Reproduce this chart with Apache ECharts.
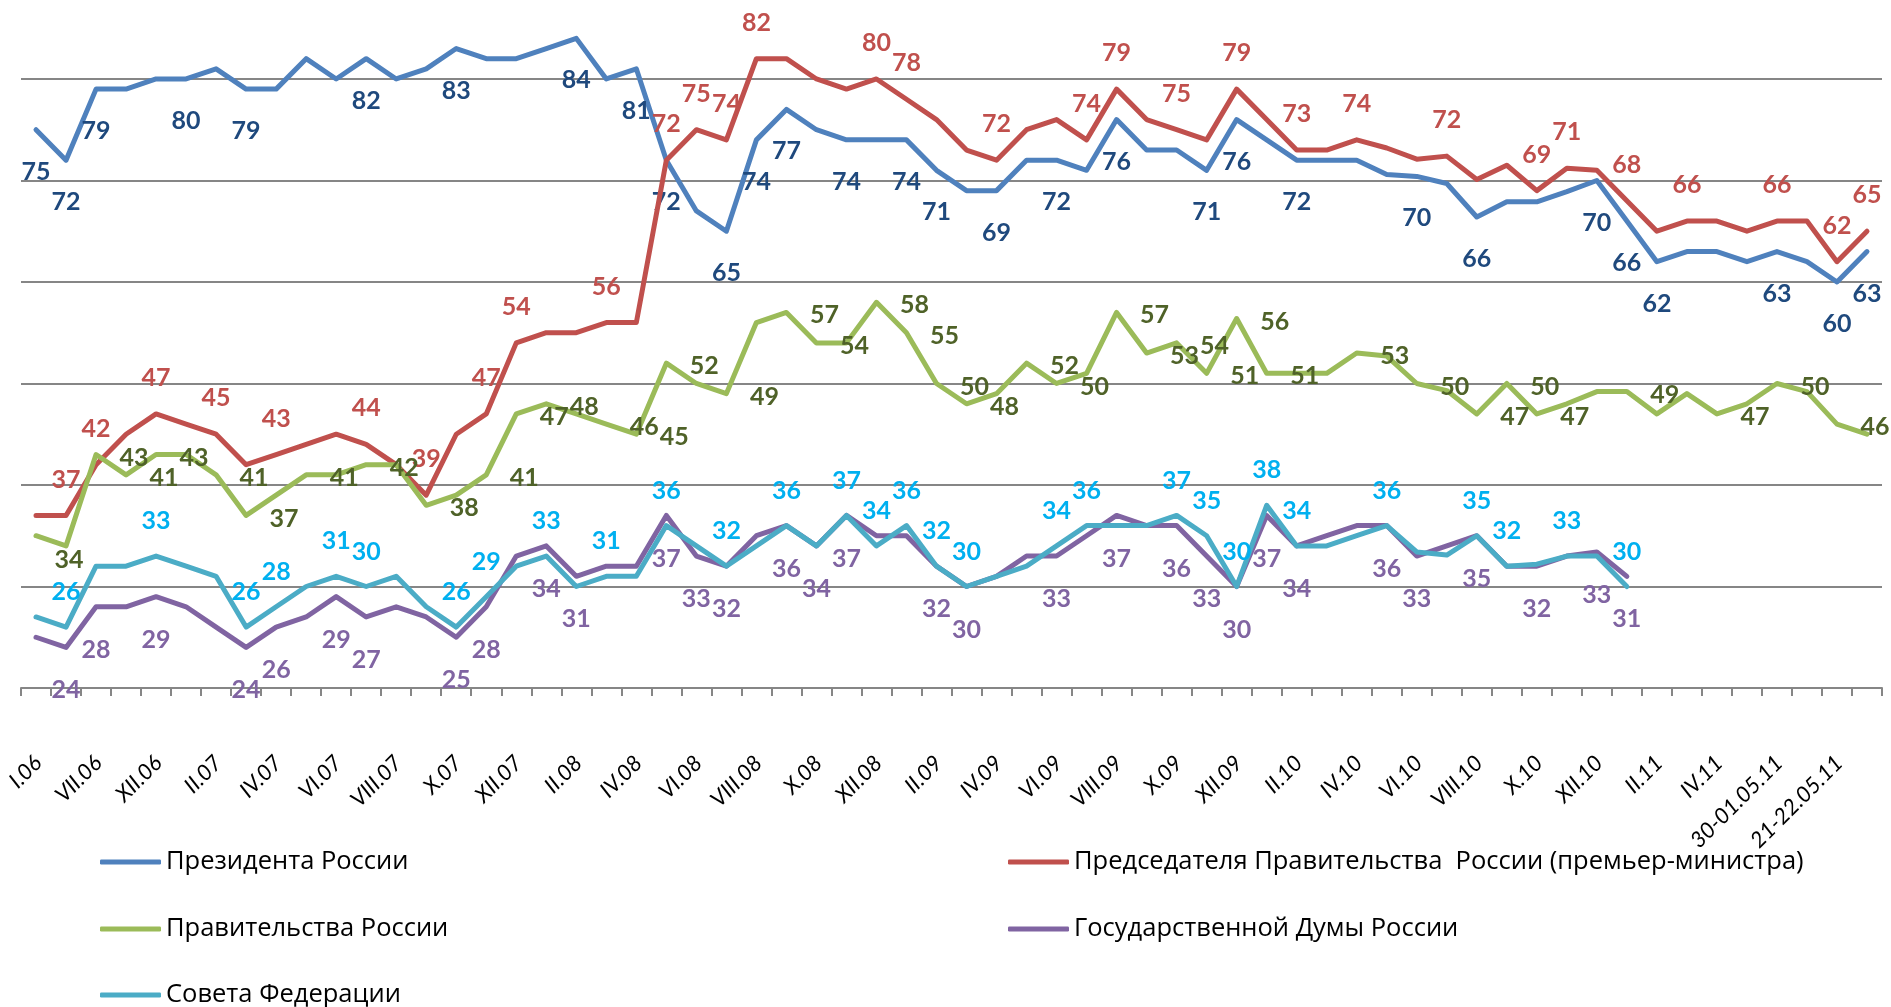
<!DOCTYPE html>
<html>
<head>
<meta charset="utf-8">
<script src="https://cdn.jsdelivr.net/npm/echarts@6/dist/echarts.min.js"></script>
<style>
html,body{margin:0;padding:0;background:#fff;}
#chart{width:1891px;height:1007px;}
</style>
</head>
<body>
<div id="chart"></div>
<script>
const categories = ['I.06','IV.06','VII.06','X.06','XII.06','I.07','II.07','III.07','IV.07','V.07',
  'VI.07','VII.07','VIII.07','IX.07','X.07','XI.07','XII.07','I.08','II.08','III.08',
  'IV.08','V.08','VI.08','VII.08','VIII.08','IX.08','X.08','XI.08','XII.08','I.09',
  'II.09','III.09','IV.09','V.09','VI.09','VII.09','VIII.09','IX.09','X.09','XI.09',
  'XII.09','I.10','II.10','III.10','IV.10','V.10','VI.10','VII.10','VIII.10','IX.10',
  'X.10','XI.10','XII.10','I.11','II.11','III.11','IV.11','23-24.04.11','30-01.05.11','14-15.05.11',
  '21-22.05.11','28-29.05.11'];

const seriesNames = ['Президента России',
  'Председателя Правительства  России (премьер-министра)',
  'Правительства России',
  'Государственной Думы России',
  'Совета Федерации'];

const president = [75,72,79,79,80,80,81,79,79,82,80,82,80,81,83,82,82,83,84,80,
  81,72,67,65,74,77,75,74,74,74,71,69,69,72,72,71,76,73,73,71,
  76,74,72,72,72,70.6,70.4,69.7,66.4,67.9,67.9,68.9,70,66,62,63,63,62,63,62,
  60,63];
const premier = [37,37,42,45,47,46,45,42,43,44,45,44,42,39,45,47,54,55,55,56,
  56,72,75,74,82,82,80,79,80,78,76,73,72,75,76,74,79,76,75,74,
  79,76,73,73,74,73.2,72.1,72.4,70.1,71.5,69,71.2,71,68,65,66,66,65,66,66,
  62,65];
const government = [35,34,43,41,43,43,41,37,39,41,41,42,42,38,39,41,47,48,47,46,
  45,52,50,49,56,57,54,54,58,55,50,48,49,52,50,51,57,53,54,51,
  56.4,51,51,51,53,52.7,50,49.3,47,50,47,48,49.2,49.2,47,49,47,48,50,49.2,
  46,45];
const duma = [25,24,28,28,29,28,26,24,26,27,29,27,28,27,25,28,33,34,31,32,
  32,37,33,32,35,36,34,37,35,35,32,30,31,33,33,35,37,36,36,33,
  30,37,34,35,36,36,33,34,35,32,32,33,33.4,31];
const council = [27,26,32,32,33,32,31,26,28,30,31,30,31,28,26,29,32,33,30,31,
  31,36,34,32,34,36,34,37,34,36,32,30,31,32,34,36,36,36,37,35,
  30,38,34,34,35,36,33.4,33.1,35,32,32.2,33,33,30];

// indices of points that carry a value label
const presidentLabels = [0,1,2,5,7,11,14,18,20,21,23,24,25,27,29,30,32,34,36,39,40,42,46,48,52,53,54,58,60,61];
const premierLabels = [1,2,4,6,8,11,13,15,16,19,21,22,23,24,28,29,32,35,36,38,40,42,44,47,50,51,53,55,58,60,61];
const governmentLabels = [1,2,3,4,6,7,9,11,13,15,16,17,19,20,21,23,25,26,28,29,30,31,33,34,36,37,38,39,40,41,44,46,48,49,50,53,56,58,60];
const dumaLabels = [1,2,4,7,8,10,11,14,15,17,18,21,22,23,25,26,27,30,31,34,36,38,39,40,41,42,45,46,48,50,52,53];
const councilLabels = [1,4,7,8,10,11,14,15,17,19,21,23,25,27,28,29,30,31,34,35,38,39,40,41,42,45,48,49,51,53];

// styling / layout (kept apart from the data)
const lineColors = ['#4F81BD','#C0504D','#9BBB59','#8064A2','#4BACC6'];
const labelColors = ['#1F497D','#C0504D','#4F6228','#8064A2','#00B0F0'];
const labelOffsets = [[0,42],[0,-36],[38,3],[0,43],[0,-35]];
const labelOffsetOverrides = [{}, {}, {1:[3,14]}, {}, {}];

const values = [president, premier, government, duma, council];
const labelIdx = [presidentLabels, premierLabels, governmentLabels, dumaLabels, councilLabels];

const FONT_NUM = 'Lato';
const series = values.map(function (arr, s) {
  const lblSet = new Set(labelIdx[s]);
  const data = arr.map(function (v, i) {
    if (!lblSet.has(i)) return v;
    const off = labelOffsetOverrides[s][i] || labelOffsets[s];
    return { value: v, label: { show: true, offset: off } };
  });
  return {
    name: seriesNames[s],
    type: 'line',
    data: data,
    color: lineColors[s],
    symbol: 'circle',
    symbolSize: 2,
    showSymbol: true,
    showAllSymbol: true,
    lineStyle: { width: 5, color: lineColors[s], cap: 'round', join: 'round' },
    itemStyle: { color: lineColors[s] },
    label: {
      show: false,
      position: 'inside',
      align: 'center',
      verticalAlign: 'middle',
      color: labelColors[s],
      fontFamily: FONT_NUM,
      fontWeight: 'bold',
      fontSize: 25,
      formatter: function (p) { return String(Math.round(p.value)); }
    },
    emphasis: { disabled: true },
    z: 2 + s
  };
});

const legendCommon = {
  icon: 'roundRect',
  itemWidth: 61,
  itemHeight: 5,
  padding: 0,
  selectedMode: false,
  textStyle: { fontFamily: 'Open Sans', fontSize: 25.5, color: '#000', lineHeight: 30 }
};
const legendSpots = [[100,847],[1008,847],[100,914],[1008,914],[100,980]];
const legends = seriesNames.map(function (n, k) {
  return Object.assign({}, legendCommon, { data: [n], left: legendSpots[k][0], top: legendSpots[k][1] });
});

const gridGray = '#868686';
const chart = echarts.init(document.getElementById('chart'), null, { renderer: 'canvas' });
chart.setOption({
  animation: false,
  backgroundColor: '#fff',
  grid: { left: 21, right: 9, top: 0, bottom: 319, containLabel: false },
  legend: legends,
  xAxis: {
    type: 'category',
    data: categories,
    boundaryGap: true,
    axisLine: { lineStyle: { color: gridGray, width: 2 } },
    axisTick: { show: true, interval: 0, length: 8, lineStyle: { color: gridGray, width: 2 } },
    axisLabel: { interval: 1, rotate: 45, margin: 58, verticalAlign: 'top', padding: [0, 8, 0, 0], fontFamily: 'Lato', fontStyle: 'italic', fontSize: 22, color: '#000' },
    splitLine: { show: false }
  },
  yAxis: {
    type: 'value',
    min: 20, max: 87.78, interval: 10,
    axisLine: { show: false },
    axisTick: { show: false },
    axisLabel: { show: false },
    splitLine: { lineStyle: { color: [gridGray,gridGray,gridGray,gridGray,gridGray,gridGray,gridGray,'rgba(0,0,0,0)'], width: 2 } }
  },
  series: series
});
</script>
</body>
</html>
